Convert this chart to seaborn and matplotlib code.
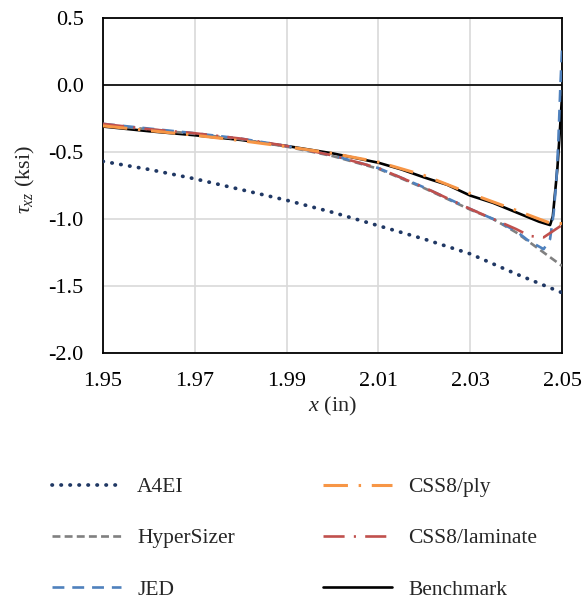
import numpy as np
import pandas as pd
import matplotlib
matplotlib.use("Agg")
import matplotlib.pyplot as plt
import seaborn as sns

# ---- data ----
a4ei_x = [1.95, 1.96, 1.97, 1.98, 1.99, 2.00, 2.01, 2.02, 2.03, 2.04, 2.045, 2.05]
a4ei_y = [-0.57, -0.63, -0.70, -0.78, -0.86, -0.95, -1.05, -1.15, -1.26, -1.41, -1.48, -1.55]

hyper_x = [1.95, 1.96, 1.97, 1.98, 1.99, 2.00, 2.01, 2.02, 2.03, 2.035, 2.04, 2.046, 2.05]
hyper_y = [-0.30, -0.33, -0.365, -0.405, -0.46, -0.53, -0.625, -0.77, -0.93, -1.00, -1.10, -1.25, -1.35]

jed_x = [1.95, 1.96, 1.97, 1.98, 1.99, 2.00, 2.01, 2.02, 2.03, 2.035, 2.04, 2.0425, 2.046,
         2.0474, 2.0482, 2.0488, 2.0492, 2.0496, 2.05]
jed_y = [-0.29, -0.325, -0.36, -0.40, -0.455, -0.525, -0.62, -0.765, -0.925, -1.00, -1.09, -1.157,
         -1.225, -1.15, -0.95, -0.70, -0.42, -0.05, 0.27]

ply_x = [1.95, 1.96, 1.97, 1.98, 1.99, 2.00, 2.01, 2.02, 2.03, 2.04, 2.045, 2.047, 2.05]
ply_y = [-0.305, -0.34, -0.375, -0.415, -0.46, -0.51, -0.575, -0.675, -0.81, -0.935, -1.00, -1.025, -1.035]

lam_x = [1.95, 1.96, 1.97, 1.98, 1.99, 2.00, 2.01, 2.02, 2.03, 2.035, 2.04, 2.043, 2.046, 2.05]
lam_y = [-0.29, -0.33, -0.36, -0.40, -0.455, -0.525, -0.62, -0.765, -0.925, -1.00, -1.075, -1.127,
         -1.137, -1.045]

bench_x = [1.95, 1.96, 1.97, 1.98, 1.99, 2.00, 2.01, 2.015, 2.02, 2.025, 2.03, 2.035, 2.04, 2.045,
           2.0474, 2.048, 2.0485, 2.049, 2.0495, 2.05]
bench_y = [-0.31, -0.345, -0.375, -0.41, -0.455, -0.51, -0.58, -0.63, -0.69, -0.745, -0.825, -0.88,
           -0.95, -1.02, -1.045, -0.98, -0.80, -0.62, -0.36, -0.09]

series_names = ["A4EI", "HyperSizer", "JED", "CSS8/ply", "CSS8/laminate", "Benchmark"]
x_ticks = [1.95, 1.97, 1.99, 2.01, 2.03, 2.05]
y_ticks = [-2.0, -1.5, -1.0, -0.5, 0.0, 0.5]

# ---- style ----
sns.set_style("white")
plt.rcParams["font.family"] = ["Liberation Serif", "DejaVu Serif"]
plt.rcParams["mathtext.fontset"] = "custom"
plt.rcParams["mathtext.rm"] = "Liberation Serif"
plt.rcParams["mathtext.it"] = "Liberation Serif:italic"
plt.rcParams["axes.unicode_minus"] = False

FS = 16
LFS = 15.5
fig = plt.figure(figsize=(5.82, 6.07), dpi=100)
ax = fig.add_axes([103 / 582, 1 - 353 / 607, (562 - 103) / 582, (353 - 18) / 607])

lw = 1.9
styles = {
    "A4EI": dict(color="#203864", linestyle=(0, (0.1, 2.3)), dash_capstyle="round", lw=2.7),
    "HyperSizer": dict(color="#808080", linestyle=(0, (3.0, 1.6)), lw=lw),
    "JED": dict(color="#4F81BD", linestyle=(0, (4.5, 3.0)), lw=lw),
    "CSS8/ply": dict(color="#F79646", linestyle=(0, (8, 3.5, 0.8, 3.5)), lw=lw + 0.3),
    "CSS8/laminate": dict(color="#C0504D", linestyle=(0, (8, 3.5, 0.8, 3.5)), lw=lw),
    "Benchmark": dict(color="black", linestyle="-", lw=lw),
}
data = {
    "A4EI": (a4ei_x, a4ei_y),
    "HyperSizer": (hyper_x, hyper_y),
    "JED": (jed_x, jed_y),
    "CSS8/ply": (ply_x, ply_y),
    "CSS8/laminate": (lam_x, lam_y),
    "Benchmark": (bench_x, bench_y),
}

ax.axhline(0, color="black", lw=1.2, zorder=1.5)

draw_order = ["Benchmark", "A4EI", "HyperSizer", "JED", "CSS8/laminate", "CSS8/ply"]
handles = {}
for name in draw_order:
    xs, ys = data[name]
    df = pd.DataFrame({"x": xs, "y": ys})
    st = styles[name]
    sns.lineplot(data=df, x="x", y="y", ax=ax, estimator=None, sort=False,
                 color=st["color"], linestyle=st["linestyle"], linewidth=st["lw"],
                 dash_capstyle=st.get("dash_capstyle", "butt"), zorder=3)
    handles[name] = ax.lines[-1]

ax.set_xlim(1.95, 2.05)
ax.set_ylim(-2.0, 0.5)
ax.set_xticks(x_ticks)
ax.set_xticklabels([f"{v:.2f}" for v in x_ticks])
ax.set_yticks(y_ticks)
ax.set_yticklabels([f"{v:.1f}" for v in y_ticks])
ax.grid(True, color="#D9D9D9", lw=1.2)
ax.set_axisbelow(True)
for s in ax.spines.values():
    s.set_color("black")
    s.set_linewidth(1.3)
ax.tick_params(axis="both", length=0, labelsize=FS, colors="black")
ax.tick_params(axis="y", pad=14)
ax.tick_params(axis="x", pad=14)

ax.set_xlabel(r"$x$ (in)", fontsize=FS)
ax.set_ylabel(r"$\tau_{xz}$ (ksi)", fontsize=FS)
ax.xaxis.set_label_coords(0.5, -(406 - 353) / 335)
ax.yaxis.set_label_coords((25 - 103) / 459, (353 - 180) / 335)
ax.xaxis.label.set_va("center")
ax.yaxis.label.set_va("center")

leg = fig.legend([handles[n] for n in series_names], series_names,
                 loc="upper left", bbox_to_anchor=(52 / 582, 1 - 477 / 607),
                 ncol=2, frameon=False, fontsize=LFS, handlelength=3.2,
                 handletextpad=0.75, columnspacing=4.1, labelspacing=1.45,
                 borderpad=0, borderaxespad=0)

fig.savefig("out.png", dpi=100)
